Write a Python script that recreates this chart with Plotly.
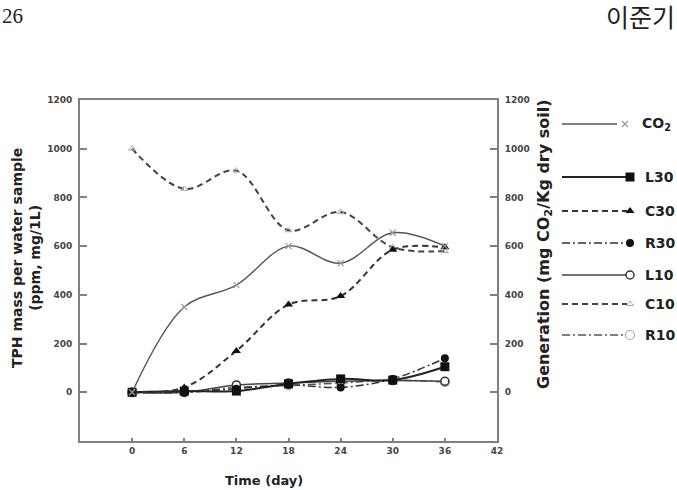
import plotly.graph_objects as go

W, H = 677, 490

# ---------------- data ----------------
days = [0, 6, 12, 18, 24, 30, 36]
co2 = [0, 350, 440, 600, 530, 655, 600]
l30 = [0, 5, 5, 35, 55, 50, 105]
c30 = [0, 20, 170, 360, 395, 585, 595]
r30 = [0, 0, 15, 30, 20, 55, 140]
l10 = [0, 0, 30, 38, 45, 48, 45]
c10 = [1000, 835, 910, 665, 740, 595, 580]
r10 = [0, 0, 20, 28, 38, 50, 42]

x_ticks = [0, 6, 12, 18, 24, 30, 36, 42]
y_ticks = [0, 200, 400, 600, 800, 1000, 1200]

# plot frame in pixels
PL, PR, PT, PB = 80, 497, 100, 441

def fx(px):
    return px / W

def fy(py):
    return 1 - py / H

styles = {
    "CO2": dict(line=dict(color="#555", width=1.4, dash="solid"),
                marker=dict(symbol="x-thin-open", size=6, color="#999",
                            line=dict(color="#999", width=1.2))),
    "L30": dict(line=dict(color="#222", width=2, dash="solid"),
                marker=dict(symbol="square", size=9, color="#111")),
    "C30": dict(line=dict(color="#333", width=2, dash="6px,4px"),
                marker=dict(symbol="triangle-up", size=8, color="#111")),
    "R30": dict(line=dict(color="#333", width=1.5, dash="8px,3px,2px,3px"),
                marker=dict(symbol="circle", size=8, color="#111")),
    "L10": dict(line=dict(color="#444", width=1.5, dash="solid"),
                marker=dict(symbol="circle", size=8, color="white",
                            line=dict(color="#333", width=1.5))),
    "C10": dict(line=dict(color="#444", width=2, dash="6px,4px"),
                marker=dict(symbol="triangle-up-open", size=6, color="#aaa",
                            line=dict(color="#aaa", width=1))),
    "R10": dict(line=dict(color="#555", width=1.5, dash="8px,3px,2px,3px"),
                marker=dict(symbol="circle", size=9, color="white",
                            line=dict(color="#aaa", width=1.2))),
}

series = [("C10", c10), ("R10", r10), ("L10", l10), ("R30", r30),
          ("L30", l30), ("C30", c30)]

fig = go.Figure()

for name, vals in series:
    st = styles[name]
    fig.add_trace(go.Scatter(
        x=days, y=vals, mode="lines+markers", name=name,
        line=dict(shape="spline", smoothing=1, **st["line"]),
        marker=st["marker"], xaxis="x", yaxis="y", showlegend=False))

st = styles["CO2"]
fig.add_trace(go.Scatter(
    x=days, y=co2, mode="lines+markers", name="CO2",
    line=dict(shape="spline", smoothing=1, **st["line"]),
    marker=st["marker"], xaxis="x", yaxis="y2", showlegend=False))

# ---------------- manual legend ----------------
legend_rows = [("CO2", "CO<sub>2</sub>", 124, 562, 617, 625, 640),
               ("L30", "L30", 177, 562, 627, 630, 643),
               ("C30", "C30", 211, 562, 627, 630, 643),
               ("R30", "R30", 243, 562, 627, 630, 643),
               ("L10", "L10", 275, 562, 627, 630, 643),
               ("C10", "C10", 304, 562, 627, 630, 643),
               ("R10", "R10", 335, 562, 627, 630, 643)]

for key, label, yy, x0, x1, xm, xt in legend_rows:
    st = styles[key]
    fig.add_trace(go.Scatter(x=[x0, x1], y=[yy, yy], mode="lines",
                             line=st["line"], xaxis="x3", yaxis="y3",
                             showlegend=False, hoverinfo="skip"))
    fig.add_trace(go.Scatter(x=[xm], y=[yy], mode="markers",
                             marker=st["marker"], xaxis="x3", yaxis="y3",
                             showlegend=False, hoverinfo="skip"))
    fig.add_annotation(x=fx(xt), y=fy(yy), xref="paper", yref="paper",
                       text="<b>" + label + "</b>", showarrow=False,
                       xanchor="left", yanchor="middle",
                       font=dict(family="DejaVu Sans", size=14, color="#222"))

tickfont = dict(family="DejaVu Sans", size=9, color="#444")
axis_line = dict(showline=True, linecolor="#808080", linewidth=2,
                 showgrid=False, zeroline=False, automargin=False,
                 ticks="inside", tickcolor="#808080", tickwidth=1.5,
                 tickfont=tickfont)

fig.update_layout(
    width=W, height=H,
    margin=dict(l=0, r=0, t=0, b=0),
    paper_bgcolor="white", plot_bgcolor="rgba(0,0,0,0)",
    showlegend=False,
    xaxis=dict(domain=[fx(PL), fx(PR)], range=[-6, 42],
               tickvals=x_ticks, ticktext=["<b>%d</b>" % v for v in x_ticks],
               ticklen=3, mirror=True, anchor="y", **axis_line),
    yaxis=dict(domain=[fy(PB), fy(PT)], range=[-200, 1200],
               tickvals=y_ticks, ticktext=["<b>%d</b>" % v for v in y_ticks],
               ticklen=7, mirror=True, anchor="x", ticklabelstandoff=4,
               **axis_line),
    yaxis2=dict(domain=[fy(PB), fy(PT)], range=[-200, 1200], overlaying="y",
                side="right", anchor="x",
                tickvals=y_ticks, ticktext=["<b>%d</b>" % v for v in y_ticks],
                ticklen=7, ticklabelstandoff=4, **axis_line),
    xaxis3=dict(domain=[0, 1], range=[0, W], visible=False, anchor="y3",
                fixedrange=True),
    yaxis3=dict(domain=[0, 1], range=[H, 0], visible=False, anchor="x3",
                fixedrange=True),
)

# axis titles
fig.add_annotation(x=fx(264), y=fy(480), xref="paper", yref="paper",
                   text="<b>Time (day)</b>", showarrow=False,
                   xanchor="center", yanchor="middle",
                   font=dict(family="DejaVu Sans", size=13, color="#222"))
fig.add_annotation(x=fx(26), y=fy(258), xref="paper", yref="paper",
                   text="<b>TPH mass per water sample<br>(ppm, mg/1L)</b>",
                   showarrow=False, textangle=-90,
                   xanchor="center", yanchor="middle",
                   font=dict(family="DejaVu Sans", size=14, color="#222"))
fig.add_annotation(x=fx(544), y=fy(244), xref="paper", yref="paper",
                   text="<b>Generation (mg CO<sub>2</sub>/Kg dry soil)</b>",
                   showarrow=False, textangle=-90,
                   xanchor="center", yanchor="middle",
                   font=dict(family="DejaVu Sans", size=16, color="#222"))

# page header text
fig.add_annotation(x=0, y=fy(16), xref="paper", yref="paper", text="26",
                   showarrow=False, xanchor="left", yanchor="middle",
                   font=dict(family="Liberation Serif", size=21, color="#222"))
fig.add_annotation(x=fx(604), y=fy(16), xref="paper", yref="paper",
                   text="이준기", showarrow=False, xanchor="left",
                   yanchor="middle",
                   font=dict(family="Noto Sans CJK KR", size=25, color="#222"))

fig.write_html("out.html")
